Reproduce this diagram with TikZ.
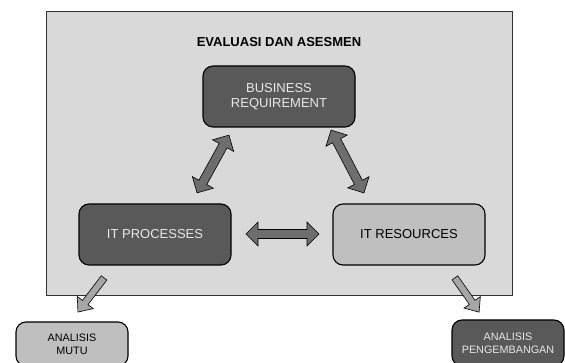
\documentclass[tikz,border=0pt]{standalone}
\usepackage{fontspec}
\setmainfont{Liberation Sans}
\definecolor{panelgray}{HTML}{D9D9D9}
\definecolor{darkbox}{HTML}{595959}
\definecolor{lightbox}{HTML}{BFBFBF}
\definecolor{dblarrowfill}{HTML}{6E6E6E}
\definecolor{downarrowfill}{HTML}{A6A6A6}
\definecolor{lighttext}{HTML}{E8E8E8}
\newcommand\dblblock[4]{%
  \begin{scope}[shift={(#1,#2)},rotate=#3]
    \draw[dblarrowstyle] ({-#4/2},0) -- ({-#4/2+12},12) -- ({-#4/2+12},4.5) -- ({#4/2-12},4.5) -- ({#4/2-12},12) -- ({#4/2},0) -- ({#4/2-12},-12) -- ({#4/2-12},-4.5) -- ({-#4/2+12},-4.5) -- ({-#4/2+12},-12) -- cycle;
  \end{scope}}
\newcommand\sglblock[4]{%
  \begin{scope}[shift={(#1,#2)},rotate=#3]
    \draw[downarrowstyle] ({-#4/2},3.5) -- ({#4/2-12},3.5) -- ({#4/2-12},10) -- ({#4/2},0) -- ({#4/2-12},-10) -- ({#4/2-12},-3.5) -- ({-#4/2},-3.5) -- cycle;
  \end{scope}}
\begin{document}
\begin{tikzpicture}[x=1pt,y=-1pt,
  boxbase/.style={draw=black, line width=1.1pt, rounded corners=10pt, align=center, inner sep=0pt},
  darkstyle/.style={boxbase, fill=darkbox, text=lighttext, font=\fontsize{13}{15.5}\selectfont},
  lightstyle/.style={boxbase, fill=lightbox, text=black, font=\fontsize{13}{15.5}\selectfont},
  smalldark/.style={boxbase, fill=darkbox, text=lighttext, font=\fontsize{10.8}{13}\selectfont},
  smalllight/.style={boxbase, fill=lightbox, text=black, font=\fontsize{10.8}{13}\selectfont},
  dblarrowstyle/.style={draw=black, line width=0.6pt, fill=dblarrowfill, line join=miter},
  downarrowstyle/.style={draw=black, line width=0.6pt, fill=downarrowfill, line join=miter}]
\useasboundingbox (0,0) rectangle (565,363);
\clip (0,0) rectangle (565,363);
\fill[white] (0,0) rectangle (565,363);
\draw[fill=panelgray, draw=black!80, line width=0.8pt] (46,11) rectangle (512,295);
\node[font=\bfseries\fontsize{13}{15}\selectfont] (title) at (279,42) {EVALUASI DAN ASESMEN};
\node[darkstyle, minimum width=152pt, minimum height=61pt] (br) at (279,96.5) {BUSINESS\\REQUIREMENT};
\node[darkstyle, minimum width=152pt, minimum height=61pt] (itp) at (155,234.5) {IT PROCESSES};
\node[lightstyle, minimum width=152pt, minimum height=61pt] (itr) at (409,234.5) {IT RESOURCES};
\node[smalllight, minimum width=112pt, minimum height=44pt] (am) at (72,344) {ANALISIS\\MUTU};
\node[smalldark, minimum width=112pt, minimum height=46pt] (ap) at (508,343) {ANALISIS\\PENGEMBANGAN};
\dblblock{213}{164}{61.1}{66}
\dblblock{347.5}{161.5}{-62.4}{71}
\dblblock{282.5}{234}{0}{73}
\sglblock{91}{295}{-127.4}{43}
\sglblock{467}{295}{-54.8}{42}
\end{tikzpicture}
\end{document}
